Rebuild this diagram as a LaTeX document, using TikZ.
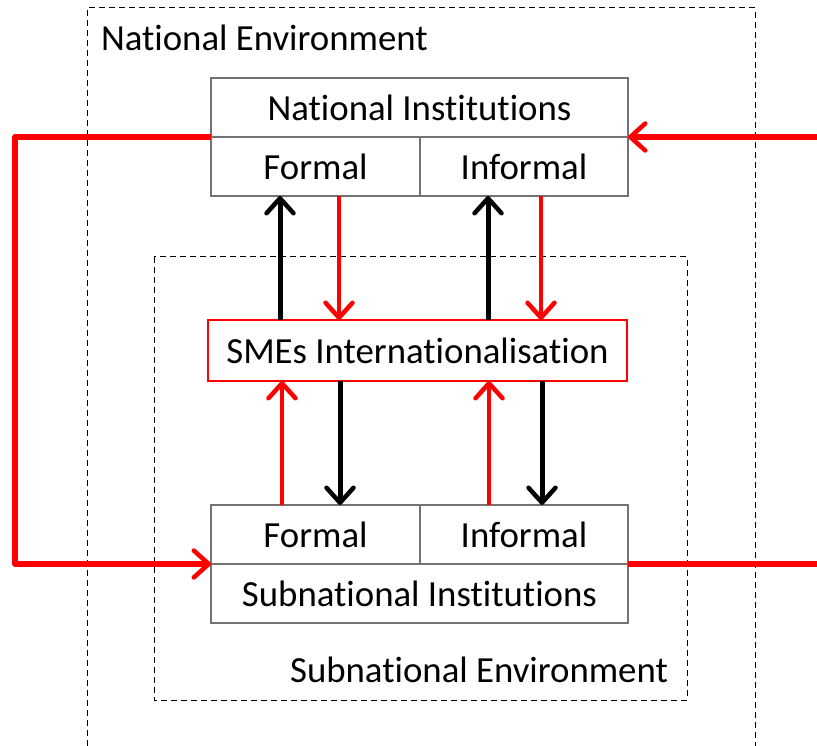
\documentclass[tikz,border=0pt]{standalone}
\usepackage{fontspec}
\setmainfont[Ligatures=NoCommon]{Carlito}
\usetikzlibrary{arrows.meta}
\begin{document}
\begin{tikzpicture}[x=1pt,y=-1pt,
  font=\fontsize{36.8}{42}\selectfont,
  every node/.style={outer sep=0pt},
  inst/.style={draw=black!55,line width=2.5pt,minimum height=59pt,inner sep=0pt,anchor=north west},
  envbox/.style={draw=black,line width=1pt,dash pattern=on 6pt off 4pt},
  tip/.style={-{Straight Barb[length=15pt,width=27pt,line width=4.5pt,round]}},
  blackarrow/.style={tip,draw=black,line width=5pt},
  redarrow/.style={tip,draw=red,line width=4.2pt},
  loop/.style={draw=red,line width=5.5pt,line join=round}]
\useasboundingbox (0,0) rectangle (817,746);

% environments
\draw[envbox] (87,746) -- (87,8) -- (755,8) -- (755,746);
\draw[envbox] (154,257) rectangle (687,700);
\node[anchor=west,inner sep=0pt] (natenv) at (101,38) {National Environment};
\node[anchor=east,inner sep=0pt] (subenv) at (668,670) {Subnational Environment};

% national institutions
\node[inst,minimum width=417pt] (ni) at (211,78) {National Institutions};
\node[inst,minimum width=209pt] (nf) at (211,137) {Formal};
\node[inst,minimum width=208pt] (nif) at (420,137) {Informal};

% firm level
\node[draw=red,line width=2.5pt,minimum width=419pt,minimum height=61pt,inner sep=0pt,anchor=north west]
  (sme) at (208,320) {SMEs Internationalisation};

% subnational institutions
\node[inst,minimum width=209pt] (sf) at (211,505) {Formal};
\node[inst,minimum width=208pt] (sif) at (420,505) {Informal};
\node[inst,minimum width=417pt] (si) at (211,564) {Subnational Institutions};

% links between levels
\draw[blackarrow] (sme.north -| 280,0) -- (nf.south -| 280,0);
\draw[redarrow] (nf.south -| 339,0) -- (sme.north -| 339,0);
\draw[blackarrow] (sme.north -| 488,0) -- (nif.south -| 488,0);
\draw[redarrow] (nif.south -| 541,0) -- (sme.north -| 541,0);

\draw[redarrow] (sf.north -| 282,0) -- (sme.south -| 282,0);
\draw[blackarrow] (sme.south -| 340,0) -- (sf.north -| 340,0);
\draw[redarrow] (sif.north -| 489,0) -- (sme.south -| 489,0);
\draw[blackarrow] (sme.south -| 542,0) -- (sif.north -| 542,0);

% feedback loop and external links
\coordinate (lc) at (15,0);
\coordinate (rin) at (817,137);
\coordinate (rout) at (817,564);
\draw[loop,tip] (ni.south west) -- (ni.south west -| lc) -- (si.north west -| lc) -- (si.north west);
\draw[loop,tip] (rin) -- (ni.south east);
\draw[loop] (si.north east) -- (rout);
\end{tikzpicture}
\end{document}
